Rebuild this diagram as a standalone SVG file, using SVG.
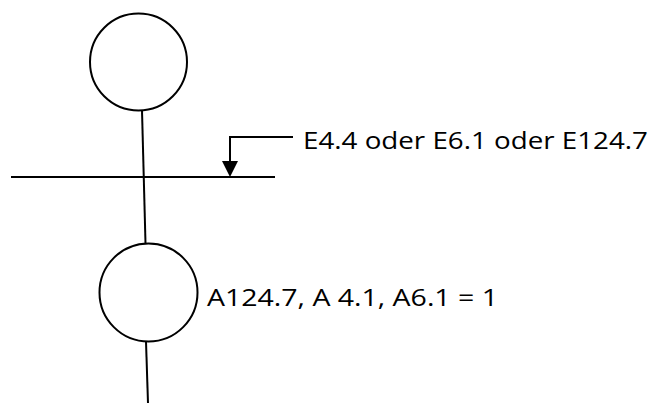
<svg xmlns="http://www.w3.org/2000/svg" width="654" height="403" viewBox="0 0 654 403">
  <style>
    .stroke { fill: none; stroke: #000; stroke-width: 2; }
    .label { font-family: "Open Sans", "Liberation Sans", sans-serif; font-size: 23px; fill: #000; }
  </style>

  <rect width="654" height="403" fill="#fff"/>

  <!-- step 1 -->
  <g id="step1">
    <circle class="stroke" cx="138.5" cy="62" r="48.5"/>
  </g>

  <!-- transition bar with its condition -->
  <g id="transition">
    <line class="stroke" x1="11" y1="177" x2="275" y2="177"/>
    <text class="label" x="303" y="148.5" textLength="345" lengthAdjust="spacingAndGlyphs">E4.4 oder E6.1 oder E124.7</text>
  </g>

  <!-- step 2 with its actions -->
  <g id="step2">
    <circle class="stroke" cx="148.5" cy="292.5" r="49"/>
    <text class="label" x="207" y="305.5" textLength="291" lengthAdjust="spacingAndGlyphs">A124.7, A 4.1, A6.1 = 1</text>
  </g>

  <!-- connectors -->
  <g id="connectors">
    <line class="stroke" x1="142" y1="110.5" x2="145.5" y2="243.5"/>
    <line class="stroke" x1="146" y1="341.5" x2="148" y2="403"/>
    <polyline class="stroke" points="293,137 230,137 230,161"/>
    <path d="M222,161 L238,161 L230,177 Z" fill="#000"/>
  </g>
</svg>
